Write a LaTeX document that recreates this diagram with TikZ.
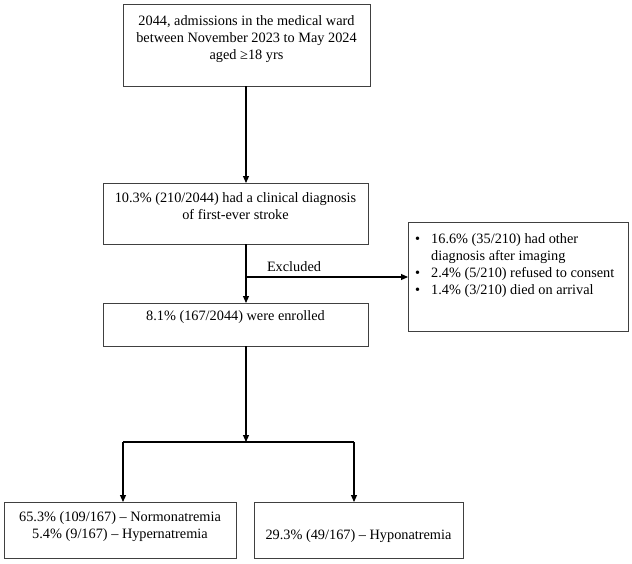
\documentclass[tikz,border=0pt]{standalone}
\usepackage{fontspec}
\setmainfont{Liberation Serif}
\usetikzlibrary{arrows.meta}
\begin{document}
\begin{tikzpicture}[x=1pt,y=-1pt,
  box/.style={draw=black!75, line width=1.1pt, inner sep=0pt, anchor=north west},
  txt/.style={font=\fontsize{14.3}{17}\selectfont, align=center, inner sep=0pt, anchor=north},
  arr/.style={line width=1.1pt, -{Triangle[length=7pt,width=6pt]}},
  ln/.style={line width=1.1pt}]
\useasboundingbox (0,0) rectangle (632,563);
% boxes
\node[box, minimum width=247pt, minimum height=82pt] (b1) at (123,4) {};
\node[box, minimum width=265pt, minimum height=61pt] (b2) at (103,183) {};
\node[box, minimum width=265pt, minimum height=43pt] (b3) at (103,303) {};
\node[box, minimum width=220pt, minimum height=109pt] (bx) at (408,222) {};
\node[box, minimum width=232pt, minimum height=56pt] (bl) at (4,502) {};
\node[box, minimum width=209pt, minimum height=56pt] (br) at (254,502) {};
% texts
\node[txt] (t1) at (246.5,15) {2044, admissions in the medical ward\\between November 2023 to May 2024\\aged ≥18 yrs};
\node[txt] (t2) at (235.5,192) {10.3\% (210/2044) had a clinical diagnosis\\of first-ever stroke};
\node[txt] (t3) at (235.5,310) {8.1\% (167/2044) were enrolled};
\node[txt, anchor=north west, align=left] (tx) at (415,231) {%
  \begin{tabular}{@{}l@{\hspace{11pt}}l@{}}
  • & 16.6\% (35/210) had other\\
    & diagnosis after imaging\\
  • & 2.4\% (5/210) refused to consent\\
  • & 1.4\% (3/210) died on arrival
  \end{tabular}};
\node[txt] (tl) at (120,511) {65.3\% (109/167) – Normonatremia\\5.4\% (9/167) – Hypernatremia};
\node[txt] (tr) at (358.5,529) {29.3\% (49/167) – Hyponatremia};
\node[txt, anchor=center] (lex) at (294,267) {Excluded};
% connectors
\coordinate (c1) at (246,86);
\coordinate (c2) at (246,183);
\draw[arr] (c1) -- (c2);
\coordinate (c3) at (246,244);
\coordinate (c4) at (246,303);
\coordinate (cx) at (246,277);
\draw[arr] (c3) -- (c4);
\draw[arr] (cx) -- (bx.west |- cx);
\coordinate (c5) at (246,346);
\coordinate (c6) at (246,442);
\draw[arr] (c5) -- (c6);
\coordinate (cl) at (123,442);
\coordinate (cr) at (354,442);
\draw[ln] (cl) -- (cr);
\draw[arr] (cl) -- (cl |- bl.north);
\draw[arr] (cr) -- (cr |- br.north);
\end{tikzpicture}
\end{document}
